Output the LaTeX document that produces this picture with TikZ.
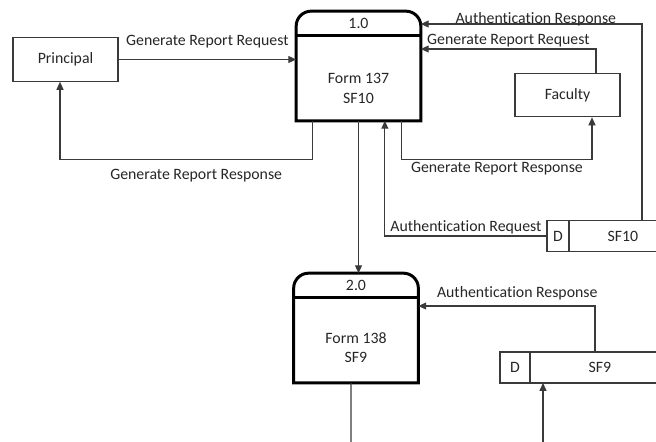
\documentclass[tikz,border=0pt]{standalone}
\usepackage{fontspec}
\setmainfont{Carlito}[Ligatures=NoCommon]
\usepackage{tikz}
\usetikzlibrary{positioning,arrows.meta,calc}
\definecolor{linec}{HTML}{3A3A3A}
\definecolor{textc}{HTML}{262626}
\tikzset{
  arr/.style={-{Triangle[length=4.5pt,width=4pt]}, line width=0.6pt, color=linec},
  flow/.style={line width=0.6pt, color=linec},
  ent/.style={draw=linec, line width=0.7pt, minimum width=2.1cm, minimum height=0.87cm,
              inner sep=0pt, font=\fontsize{9}{11}\selectfont, text=textc},
  procbody/.style={inner sep=0pt, minimum width=2.48cm, minimum height=2.18cm},
  proc/.style={draw=black, line width=1.7pt},
  ptxt/.style={font=\fontsize{9}{11}\selectfont, text=textc, align=center, inner sep=0pt},
  sto/.style={draw=linec, line width=0.7pt, minimum height=0.63cm, inner sep=0pt, outer sep=0pt,
              font=\fontsize{9}{11}\selectfont, text=textc},
  lbl/.style={font=\fontsize{9}{11}\selectfont, text=textc, inner sep=1pt},
}
\begin{document}
\begin{tikzpicture}[x=0.02cm, y=-0.02cm]
  \useasboundingbox (0,0) rectangle (656,442);
  \clip (0,0) rectangle (656,442);
  % external entities
  \node[ent] (principal) at (65.5,59.5) {Principal};
  \node[ent] (faculty)   at (567.5,95)  {Faculty};
  % processes
  \node[procbody] (p1) at (358.5,66) {};
  \node[procbody] (p2) at (356,328)  {};
  \foreach \p in {p1,p2} {
    \draw[proc] (\p.south west) -- ([yshift=-0.3cm]\p.north west)
      arc[start angle=180, end angle=90, radius=0.3cm] -- ([xshift=-0.3cm]\p.north east)
      arc[start angle=90, end angle=0, radius=0.3cm] -- (\p.south east) -- cycle;
    \draw[proc] ([yshift=-0.49cm]\p.north west) -- ([yshift=-0.49cm]\p.north east);
  }
  \node[ptxt] at ([yshift=-0.25cm]p1.north) {1.0};
  \node[ptxt] at ([yshift=0.65cm]p1.south)  {Form 137\\SF10};
  \node[ptxt] at ([yshift=-0.25cm]p2.north) {2.0};
  \node[ptxt] at ([yshift=0.71cm]p2.south)  {Form 138\\SF9};
  % data stores
  \node[sto, minimum width=0.44cm] (sf10d) at (558,236) {D};
  \node[sto, minimum width=2.16cm, right=0pt of sf10d] (sf10) {SF10};
  \node[sto, minimum width=0.6cm, minimum height=0.62cm] (sf9d) at (515,367.5) {D};
  \node[sto, minimum width=2.8cm, minimum height=0.62cm, right=0pt of sf9d] (sf9) {SF9};
  \coordinate (bot1) at (351,450);
  \coordinate (bot2) at (543,450);
  % flows
  \draw[arr] (principal) -- node[lbl, above=5pt] {Generate Report Request} (principal -| p1.west);
  \draw[arr] ([xshift=0.32cm]p1.south west) -- ++(0,39)
        -| node[lbl, below=4pt, pos=0.23] {Generate Report Response} ([xshift=-0.11cm]principal.south);
  \draw[arr] ([xshift=0.57cm]faculty.north)
        |- node[lbl, above, pos=0.75] {Generate Report Request} ([yshift=0.34cm]p1.east);
  \draw[arr] ([xshift=-0.38cm]p1.south east) -- ++(0,39)
        -| node[lbl, below, pos=0.25] {Generate Report Response} ([xshift=0.49cm]faculty.south);
  \draw[arr] ([xshift=0.38cm]sf10.north)
        |- node[lbl, above, inner sep=0pt, yshift=-1.5pt, pos=0.74] {Authentication Response} ([yshift=0.84cm]p1.east);
  \draw[arr] (sf10d.west)
        -| node[lbl, above=0pt, pos=0.25] {Authentication Request} ([xshift=-0.72cm]p1.south east);
  \draw[arr] (p1.south) -- (p1.south |- p2.north);
  \draw[arr] ([xshift=-0.1cm]sf9.north)
        |- node[lbl, above=2pt, pos=0.72] {Authentication Response} ([yshift=0.44cm]p2.east);
  \draw[flow] ([xshift=-0.1cm]p2.south) -- (bot1);
  \draw[arr] (bot2) -- (bot2 |- sf9.south);
\end{tikzpicture}
\end{document}
